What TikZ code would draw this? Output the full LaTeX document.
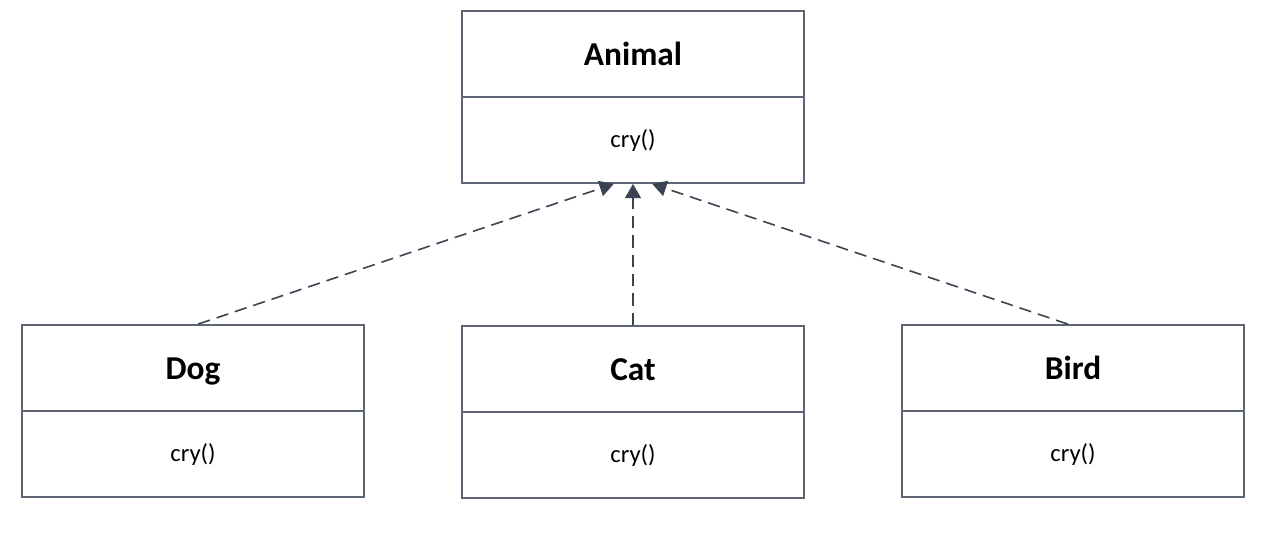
\documentclass[tikz,border=0pt]{standalone}
\usepackage{fontspec}
\setmainfont{Carlito}
\usetikzlibrary{arrows.meta,positioning}
\definecolor{boxline}{HTML}{5E6573}
\definecolor{arrline}{HTML}{3B4252}

\begin{document}
\begin{tikzpicture}[
            x=0.02cm,y=-0.02cm,
            every node/.append style={black},
            classname/.style={draw=boxline,line width=1.1pt,minimum width=6.84cm,
                minimum height=1.72cm,inner sep=0pt,text height=17pt,text depth=4pt,
                font=\fontsize{19}{22}\selectfont\bfseries},
            method/.style={draw=boxline,line width=1.1pt,minimum width=6.84cm,
                minimum height=1.72cm,inner sep=0pt,font=\fontsize{14}{17}\selectfont},
            realize/.style={arrline,line width=0.9pt,dash pattern=on 7pt off 4pt,
                -{Triangle[width=9pt,length=8pt]}}
        ]
            \useasboundingbox (0,0) rectangle (1270,532);
            % parent class
            \node[classname] (animal) at (633,54) {Animal};
            \node[method,below=-1.1pt of animal] (animalop) {cry()};
            % subclasses
            \node[classname] (dog) at (193,368) {Dog};
            \node[method,below=-1.1pt of dog] (dogop) {cry()};
            \node[classname] (cat) at (633,369) {Cat};
            \node[method,below=-1.1pt of cat] (catop) {cry()};
            \node[classname] (bird) at (1073,368) {Bird};
            \node[method,below=-1.1pt of bird] (birdop) {cry()};
            % realisation arrows
            \draw [realize] ([xshift=3]dog.north) -- ([xshift=-11]animalop.south);
            \draw [realize] (cat.north) -- (animalop.south);
            \draw [realize] ([xshift=-3]bird.north) -- ([xshift=11]animalop.south);
        \end{tikzpicture}
\end{document}
